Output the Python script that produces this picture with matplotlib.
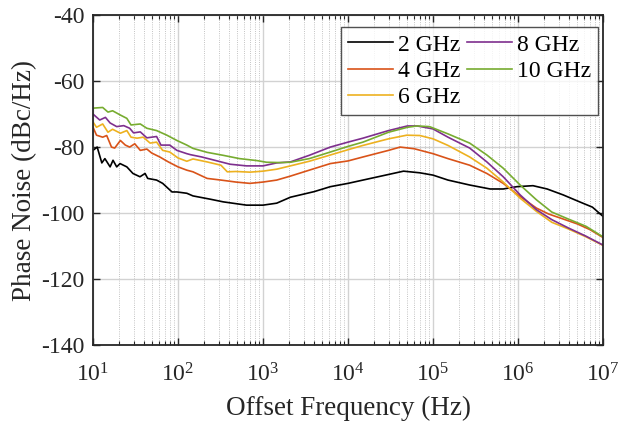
import matplotlib
matplotlib.use("Agg")
import matplotlib.pyplot as plt
from matplotlib.ticker import LogLocator, NullFormatter, LogFormatterMathtext

plt.rcParams['font.family'] = ['Liberation Serif', 'DejaVu Serif']
plt.rcParams['mathtext.fontset'] = 'custom'
plt.rcParams['mathtext.rm'] = 'Liberation Serif'
plt.rcParams['mathtext.it'] = 'Liberation Serif:italic'
plt.rcParams['axes.unicode_minus'] = False

# 2 GHz
f_2g = [10, 11.2, 12.7, 13.8, 15.9, 17.2, 19, 20.8, 25, 29.5, 35.7, 41, 44, 56, 66, 85, 97,
        127, 150, 240, 340, 640, 1000, 1450, 2100, 4000, 6200, 1e4, 1.5e4, 3e4, 4.5e4, 7e4,
        1e5, 1.5e5, 2.7e5, 4.7e5, 6.7e5, 9.7e5, 1.5e6, 2.2e6, 3.4e6, 5.3e6, 7.5e6, 1e7]
pn_2g = [-81, -80, -84.8, -83.5, -86, -84, -86, -85, -86, -88, -89, -88, -89.5, -90, -91, -93.6, -93.6,
         -94, -94.8, -95.8, -96.6, -97.6, -97.6, -97, -95.2, -93.5, -92, -91, -90, -88.3, -87.3, -87.8,
         -88.5, -90, -91.5, -92.7, -92.7, -92, -91.7, -92.7, -94.5, -96.6, -98.2, -101]

# 4 GHz
f_4g = [10, 11, 13, 14.5, 16.5, 18, 21, 24, 27, 31, 36, 43, 49, 61, 77, 100, 127, 150, 220, 320,
        480, 700, 1000, 1450, 2100, 3500, 6200, 1e4, 1.5e4, 3e4, 4.1e4, 6e4, 1e5, 1.5e5, 2.7e5,
        4.3e5, 6.7e5, 1.06e6, 1.65e6, 2.3e6, 3.4e6, 5e6, 7e6, 1e7]
pn_4g = [-74, -76.4, -77, -76.5, -80, -80.3, -78, -79.4, -80, -79, -81, -80.6, -81.8, -83, -84.5, -86, -87, -87.5, -89.5, -90,
         -90.6, -91, -90.6, -90, -88.8, -87, -85, -84.2, -83, -81, -80, -80.5, -82, -83.5, -85.5,
         -88, -91, -95, -98.5, -100.3, -101.8, -103.3, -105, -107.4]

# 6 GHz
f_6g = [10, 11, 13, 15, 17, 21, 25, 28, 33, 39, 47, 56, 66, 80, 100, 127, 150, 220, 320, 380,
        480, 700, 1000, 1450, 2100, 3500, 6200, 1e4, 1.5e4, 3e4, 4.9e4, 7e4, 1e5, 1.5e5, 2.7e5,
        4.3e5, 6.7e5, 1.06e6, 1.65e6, 2.5e6, 3.9e6, 6.3e6, 1e7]
pn_6g = [-72.4, -74, -73, -75.5, -74.6, -75.8, -75, -77, -77.3, -77, -78.8, -78.5, -81, -81.5, -83.3, -84.3, -83.6, -84.5, -85.5, -87.5,
         -87.4, -87.6, -87.3, -86.7, -85.7, -84.3, -82.4, -80.8, -79.5, -77.5, -76.4, -76.5, -77.5, -79.5, -83,
         -86.4, -90.6, -95.5, -99.5, -102.8, -104.8, -107.2, -109.8]

# 8 GHz
f_8g = [10, 12, 14, 15.9, 19, 23, 27, 30, 36, 43, 56, 63, 80, 97, 127, 140, 190, 270, 410, 640,
        1000, 1450, 2100, 3500, 6200, 1e4, 1.5e4, 3e4, 5e4, 6.5e4, 1e5, 1.5e5, 2.7e5, 4.3e5,
        6.7e5, 1.06e6, 1.65e6, 2.5e6, 3.9e6, 6.3e6, 1e7]
pn_8g = [-70, -71.8, -71, -72.7, -73.8, -73.5, -74.3, -75.7, -75.4, -77.2, -76.8, -79.4, -79.4, -81, -82, -82.3, -83, -84, -85.2, -85.7,
         -85.7, -84.8, -84.5, -82.5, -80, -78.5, -77.3, -75, -73.6, -73.6, -74.5, -77, -80.3, -84.5,
         -89, -94.5, -99, -102, -104.5, -107, -109.7]

# 10 GHz
f_10g = [10, 13, 15, 17, 21, 25, 28, 36, 43, 56, 74, 97, 127, 150, 220, 340, 530, 850, 1100, 1580,
         2100, 3500, 6200, 1e4, 1.5e4, 3e4, 5e4, 6.5e4, 9.1e4, 1.5e5, 2.7e5, 4.3e5, 6.7e5, 1.06e6,
         1.65e6, 2.5e6, 3.9e6, 6.3e6, 1e7]
pn_10g = [-68.2, -68, -69.4, -69, -70.3, -71.3, -73.3, -73, -74.3, -75, -76.4, -78, -79.4, -80.4, -81.6, -82.5, -83.5, -84.1, -84.6, -84.7,
          -84.6, -83.5, -81.5, -79.8, -78.5, -75.5, -74, -73.6, -73.8, -76, -78.8, -82.4, -86.4, -91.5,
          -96, -99.7, -101.8, -104, -107.2]

labels = ['2 GHz', '4 GHz', '6 GHz', '8 GHz', '10 GHz']
colors = ['#000000', '#D95319', '#EDB120', '#7E2F8E', '#77AC30']
freqs = [f_2g, f_4g, f_6g, f_8g, f_10g]
noise = [pn_2g, pn_4g, pn_6g, pn_8g, pn_10g]

fig = plt.figure(figsize=(6.2, 4.26), dpi=100)
ax = fig.add_axes([0.15, 0.19, 0.8226, 0.7746])

for f, pn, lab, c in zip(freqs, noise, labels, colors):
    ax.semilogx(f, pn, color=c, lw=1.2, label=lab)

ax.set_xlim(10, 1e7)
ax.set_ylim(-140, -40)
ax.set_yticks(range(-140, -39, 20))
ax.xaxis.set_major_locator(LogLocator(base=10, numticks=10))
ax.xaxis.set_major_formatter(LogFormatterMathtext())
ax.xaxis.set_minor_locator(LogLocator(base=10, subs=range(2, 10), numticks=20))
ax.xaxis.set_minor_formatter(NullFormatter())

ax.grid(True, which='major', color='#d2d2d2', lw=1.0)
ax.grid(True, which='minor', axis='x', color='#b0b0b0', lw=0.6, ls=':')
ax.set_axisbelow(True)

ax.tick_params(which='both', direction='in', top=True, right=True, labelsize=17, colors='#262626')
ax.tick_params(which='major', length=5, width=1)
ax.tick_params(which='minor', length=3, width=0.8)
ax.tick_params(axis='x', which='major', pad=13)
ax.tick_params(axis='y', which='major', pad=6)
for s in ax.spines.values():
    s.set_linewidth(1.3)
    s.set_color('#262626')

ax.set_xlabel('Offset Frequency (Hz)', fontsize=19.5, color='#262626', labelpad=7)
ax.set_ylabel('Phase Noise (dBc/Hz)', fontsize=19.5, color='#262626', labelpad=3)

leg = ax.legend(ncol=2, loc='upper right', bbox_to_anchor=(0.99, 0.964), fontsize=17,
                frameon=True, fancybox=False, edgecolor='#262626', handlelength=1.9,
                columnspacing=0.3, handletextpad=0.2, labelspacing=0.2, borderpad=0.3,
                borderaxespad=0)
leg.get_frame().set_linewidth(1.0)

fig.savefig('out.png', dpi=100)
